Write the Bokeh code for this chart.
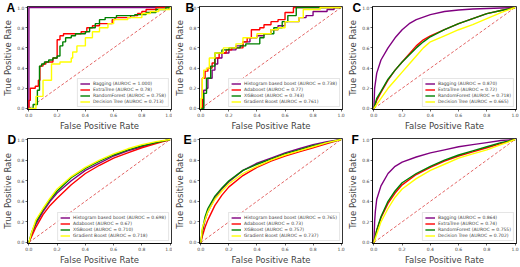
from bokeh.plotting import figure
from bokeh.layouts import column, row
from bokeh.models import FixedTicker, Legend, LegendItem, Range1d
from bokeh.embed import file_html
from bokeh.resources import INLINE

TICKS = [0.0, 0.2, 0.4, 0.6, 0.8, 1.0]
TICK_LABELS = ["0.0", "0.2", "0.4", "0.6", "0.8", "1.0"]

a_labels = ["Bagging (AUROC = 1.000)", "ExtraTree (AUROC = 0.78)",
            "RandomForest (AUROC = 0.758)", "Decision Tree (AUROC = 0.713)"]
a_bag_fpr = [0.0, 0.0, 1.0]
a_bag_tpr = [0.0, 1.0, 1.0]
a_et_fpr = [0.0, 0.0, 0.01, 0.045, 0.067, 0.078, 0.1, 0.12, 0.17, 0.2, 0.22, 0.245, 0.37,
            0.41, 0.45, 0.5, 0.59, 0.61, 0.72, 0.77, 0.8, 0.83, 0.9, 1.0]
a_et_tpr = [0.0, 0.08, 0.2, 0.22, 0.28, 0.42, 0.44, 0.46, 0.5, 0.68, 0.72, 0.74, 0.76,
            0.8, 0.82, 0.84, 0.88, 0.9, 0.92, 0.94, 0.96, 0.98, 1.0, 1.0]
a_rf_fpr = [0.0, 0.03, 0.06, 0.075, 0.09, 0.11, 0.14, 0.17, 0.2, 0.22, 0.24, 0.26, 0.3,
            0.33, 0.4, 0.43, 0.47, 0.5, 0.54, 0.62, 0.75, 0.83, 0.9, 0.97, 1.0]
a_rf_tpr = [0.0, 0.04, 0.18, 0.42, 0.44, 0.46, 0.48, 0.5, 0.52, 0.62, 0.66, 0.7, 0.72,
            0.74, 0.76, 0.8, 0.84, 0.88, 0.9, 0.92, 0.93, 0.95, 0.98, 1.0, 1.0]
a_dt_fpr = [0.0, 0.05, 0.1, 0.16, 0.22, 0.3, 0.31, 0.34, 0.4, 0.45, 0.5, 0.56, 0.6, 0.7,
            0.8, 0.86, 0.92, 1.0]
a_dt_tpr = [0.0, 0.12, 0.28, 0.44, 0.46, 0.5, 0.56, 0.62, 0.7, 0.76, 0.8, 0.84, 0.88, 0.9,
            0.94, 0.96, 0.98, 1.0]

b_labels = ["Histogram based boost (AUROC = 0.738)", "Adaboost (AUROC = 0.77)",
            "XGBoost (AUROC = 0.743)", "Gradient Boost (AUROC = 0.761)"]
b_hist_fpr = [0.0, 0.02, 0.04, 0.05, 0.08, 0.1, 0.12, 0.15, 0.2, 0.25, 0.3, 0.35, 0.4,
              0.45, 0.5, 0.55, 0.6, 0.7, 0.75, 0.8, 0.9, 0.95, 1.0]
b_hist_tpr = [0.0, 0.18, 0.2, 0.3, 0.38, 0.44, 0.5, 0.55, 0.58, 0.62, 0.66, 0.7, 0.72,
              0.74, 0.78, 0.82, 0.86, 0.9, 0.92, 0.96, 0.98, 1.0, 1.0]
b_ada_fpr = [0.0, 0.01, 0.03, 0.05, 0.08, 0.1, 0.13, 0.18, 0.22, 0.3, 0.33, 0.36, 0.42,
             0.45, 0.5, 0.55, 0.6, 0.66, 1.0]
b_ada_tpr = [0.0, 0.3, 0.37, 0.4, 0.45, 0.5, 0.55, 0.58, 0.6, 0.66, 0.7, 0.78, 0.8,
             0.83, 0.86, 0.88, 0.95, 1.0, 1.0]
b_xgb_fpr = [0.0, 0.02, 0.04, 0.07, 0.1, 0.15, 0.2, 0.28, 0.32, 0.42, 0.45, 0.52, 0.58,
             0.62, 0.68, 1.0]
b_xgb_tpr = [0.0, 0.15, 0.3, 0.42, 0.55, 0.58, 0.6, 0.62, 0.64, 0.7, 0.74, 0.8, 0.86,
             0.92, 1.0, 1.0]
b_gb_fpr = [0.0, 0.0, 0.01, 0.02, 0.04, 0.06, 0.1, 0.16, 0.25, 0.3, 0.4, 0.5, 0.55, 0.6,
            0.7, 0.73, 0.85, 1.0]
b_gb_tpr = [0.0, 0.1, 0.3, 0.38, 0.4, 0.5, 0.55, 0.6, 0.64, 0.7, 0.74, 0.78, 0.8, 0.86,
            0.9, 0.98, 1.0, 1.0]

c_labels = ["Bagging (AUROC = 0.870)", "ExtraTree (AUROC = 0.72)",
            "RandomForest (AUROC = 0.718)", "Decision Tree (AUROC = 0.665)"]
c_bag_fpr = [0.0, 0.005, 0.02, 0.05, 0.1, 0.15, 0.2, 0.25, 0.3, 0.4, 0.5, 0.6, 0.7, 0.8, 0.9, 1.0]
c_bag_tpr = [0.0, 0.2, 0.35, 0.48, 0.6, 0.7, 0.78, 0.84, 0.88, 0.93, 0.96, 0.975, 0.985, 0.99, 0.995, 1.0]
c_et_fpr = [0.0, 0.02, 0.05, 0.1, 0.15, 0.2, 0.25, 0.3, 0.35, 0.4, 0.5, 0.6, 0.7, 0.8, 0.9, 1.0]
c_et_tpr = [0.0, 0.08, 0.16, 0.28, 0.38, 0.46, 0.54, 0.62, 0.68, 0.72, 0.78, 0.84, 0.89, 0.94, 0.97, 1.0]
c_rf_fpr = [0.0, 0.02, 0.05, 0.1, 0.15, 0.2, 0.25, 0.3, 0.35, 0.4, 0.5, 0.6, 0.7, 0.8, 0.9, 1.0]
c_rf_tpr = [0.0, 0.1, 0.17, 0.29, 0.38, 0.46, 0.53, 0.6, 0.66, 0.71, 0.78, 0.84, 0.89, 0.94, 0.97, 1.0]
c_dt_fpr = [0.0, 0.05, 0.1, 0.15, 0.2, 0.25, 0.3, 0.35, 0.4, 0.5, 0.6, 0.7, 0.8, 0.9, 1.0]
c_dt_tpr = [0.0, 0.1, 0.2, 0.28, 0.36, 0.44, 0.52, 0.6, 0.66, 0.72, 0.78, 0.83, 0.89, 0.95, 1.0]

d_labels = ["Histogram based boost (AUROC = 0.698)", "Adaboost (AUROC = 0.67)",
            "XGBoost (AUROC = 0.710)", "Gradient Boost (AUROC = 0.718)"]
d_fpr = [0.0, 0.02, 0.05, 0.1, 0.15, 0.2, 0.3, 0.4, 0.5, 0.6, 0.7, 0.8, 0.9, 1.0]
d_hist_tpr = [0.0, 0.08, 0.18, 0.3, 0.4, 0.48, 0.6, 0.7, 0.77, 0.84, 0.89, 0.93, 0.97, 1.0]
d_ada_tpr = [0.0, 0.06, 0.15, 0.27, 0.36, 0.43, 0.56, 0.67, 0.75, 0.82, 0.87, 0.92, 0.96, 1.0]
d_xgb_tpr = [0.0, 0.1, 0.2, 0.32, 0.42, 0.5, 0.63, 0.72, 0.79, 0.85, 0.9, 0.94, 0.97, 1.0]
d_gb_tpr = [0.0, 0.1, 0.22, 0.33, 0.43, 0.52, 0.64, 0.73, 0.8, 0.86, 0.91, 0.95, 0.98, 1.0]

e_labels = ["Histogram based boost (AUROC = 0.765)", "Adaboost (AUROC = 0.73)",
            "XGBoost (AUROC = 0.757)", "Gradient Boost (AUROC = 0.737)"]
e_fpr = [0.0, 0.01, 0.03, 0.05, 0.1, 0.15, 0.2, 0.3, 0.4, 0.5, 0.6, 0.7, 0.8, 0.9, 1.0]
e_hist_tpr = [0.0, 0.1, 0.22, 0.3, 0.43, 0.52, 0.59, 0.7, 0.77, 0.82, 0.87, 0.91, 0.95, 0.98, 1.0]
e_ada_tpr = [0.0, 0.06, 0.15, 0.22, 0.36, 0.46, 0.54, 0.65, 0.73, 0.79, 0.84, 0.88, 0.92, 0.96, 1.0]
e_xgb_tpr = [0.0, 0.12, 0.25, 0.33, 0.45, 0.53, 0.6, 0.7, 0.76, 0.81, 0.86, 0.9, 0.94, 0.97, 1.0]
e_gb_tpr = [0.0, 0.14, 0.22, 0.3, 0.42, 0.5, 0.57, 0.67, 0.74, 0.8, 0.85, 0.89, 0.93, 0.97, 1.0]

f_labels = ["Bagging (AUROC = 0.864)", "ExtraTree (AUROC = 0.74)",
            "RandomForest (AUROC = 0.755)", "Decision Tree (AUROC = 0.702)"]
f_bag_fpr = [0.0, 0.005, 0.01, 0.02, 0.05, 0.1, 0.15, 0.2, 0.3, 0.4, 0.5, 0.6, 0.7, 0.8, 0.9, 1.0]
f_bag_tpr = [0.0, 0.2, 0.3, 0.42, 0.55, 0.67, 0.74, 0.78, 0.83, 0.87, 0.9, 0.93, 0.95, 0.97, 0.99, 1.0]
f_fpr = [0.0, 0.02, 0.05, 0.1, 0.15, 0.2, 0.3, 0.4, 0.5, 0.6, 0.7, 0.8, 0.9, 1.0]
f_et_tpr = [0.0, 0.12, 0.24, 0.38, 0.48, 0.56, 0.66, 0.73, 0.79, 0.84, 0.88, 0.92, 0.96, 1.0]
f_rf_tpr = [0.0, 0.12, 0.25, 0.4, 0.5, 0.58, 0.67, 0.74, 0.8, 0.85, 0.89, 0.93, 0.97, 1.0]
f_dt_tpr = [0.0, 0.08, 0.2, 0.33, 0.44, 0.52, 0.62, 0.7, 0.76, 0.82, 0.86, 0.9, 0.95, 1.0]

COLORS = ["#800080", "#ff0000", "#008000", "#ffff00"]
DIAG = [0.0, 1.0]
FONT = "DejaVu Sans"


def panel(letter, labels, curves, kind, w, h, bl, br, bt, bb, loff):
    p = figure(width=w, height=h, output_backend="svg", toolbar_location=None,
               x_range=Range1d(-0.01, 1.01), y_range=Range1d(-0.01, 1.01),
               min_border_left=bl, min_border_right=br, min_border_top=bt,
               min_border_bottom=bb, background_fill_color="white",
               border_fill_color="white", title=letter, title_location="above")
    # panel letter, drawn as the title and pulled next to the frame corner
    p.title.align = "left"
    p.title.offset = loff
    p.title.standoff = -16
    p.title.text_font = "Liberation Sans"
    p.title.text_font_size = "12px"
    p.title.text_font_style = "bold"
    p.title.text_color = "black"

    p.outline_line_color = "black"
    p.outline_line_width = 0.8
    p.grid.visible = False
    p.xaxis.axis_label = "False Positive Rate"
    p.yaxis.axis_label = "True Positive Rate"
    for ax in (p.xaxis[0], p.yaxis[0]):
        ax.ticker = FixedTicker(ticks=TICKS)
        ax.major_label_overrides = dict(zip(TICKS, TICK_LABELS))
        ax.major_label_text_font = FONT
        ax.major_label_text_font_size = "4.5px"
        ax.major_tick_out = 2
        ax.major_tick_in = 0
        ax.minor_tick_out = 0
        ax.minor_tick_in = 0
        ax.major_label_standoff = 1
        ax.major_tick_line_width = 0.6
        ax.axis_line_width = 0.8
        ax.axis_label_text_font = FONT
        ax.axis_label_text_font_size = "8.5px"
        ax.axis_label_text_font_style = "normal"
        ax.axis_label_standoff = 1

    p.line(DIAG, DIAG, line_color="#e05555", line_width=0.9, line_dash="3 2")
    items = []
    for (fx, ty), col, lab in zip(curves, COLORS, labels):
        if kind == "step":
            r = p.step(fx, ty, mode="after", line_color=col, line_width=1.4)
        else:
            r = p.line(fx, ty, line_color=col, line_width=1.4)
        items.append(LegendItem(label=lab, renderers=[r]))
    leg = Legend(items=items, location="bottom_right",
                 label_text_font=FONT, label_text_font_size="4.5px",
                 glyph_width=10, glyph_height=5, label_height=5, label_standoff=3,
                 spacing=1, padding=2, margin=2,
                 border_line_color="#cccccc", border_line_width=0.6,
                 background_fill_alpha=0.85)
    p.add_layout(leg)
    return p


pa = panel("A", a_labels,
           [(a_bag_fpr, a_bag_tpr), (a_et_fpr, a_et_tpr), (a_rf_fpr, a_rf_tpr), (a_dt_fpr, a_dt_tpr)],
           "step", 172, 133, 22, 1, 5, 19, -21)
pb = panel("B", b_labels,
           [(b_hist_fpr, b_hist_tpr), (b_ada_fpr, b_ada_tpr), (b_xgb_fpr, b_xgb_tpr), (b_gb_fpr, b_gb_tpr)],
           "step", 173, 133, 22, 3, 6, 18, -14)
pc = panel("C", c_labels,
           [(c_bag_fpr, c_bag_tpr), (c_et_fpr, c_et_tpr), (c_rf_fpr, c_rf_tpr), (c_dt_fpr, c_dt_tpr)],
           "line", 175, 133, 22, 4, 5, 19, -20)
pd_ = panel("D", d_labels,
            [(d_fpr, d_hist_tpr), (d_fpr, d_ada_tpr), (d_fpr, d_xgb_tpr), (d_fpr, d_gb_tpr)],
            "line", 172, 134, 22, 1, 5, 20, -20)
pe = panel("E", e_labels,
           [(e_fpr, e_hist_tpr), (e_fpr, e_ada_tpr), (e_fpr, e_xgb_tpr), (e_fpr, e_gb_tpr)],
           "line", 173, 134, 21, 3, 4, 20, -16)
pf = panel("F", f_labels,
           [(f_bag_fpr, f_bag_tpr), (f_fpr, f_et_tpr), (f_fpr, f_rf_tpr), (f_fpr, f_dt_tpr)],
           "line", 175, 134, 23, 4, 4, 21, -21)

layout = column(row(pa, pb, pc), row(pd_, pe, pf))
open("out.html", "w").write(file_html(layout, INLINE))
